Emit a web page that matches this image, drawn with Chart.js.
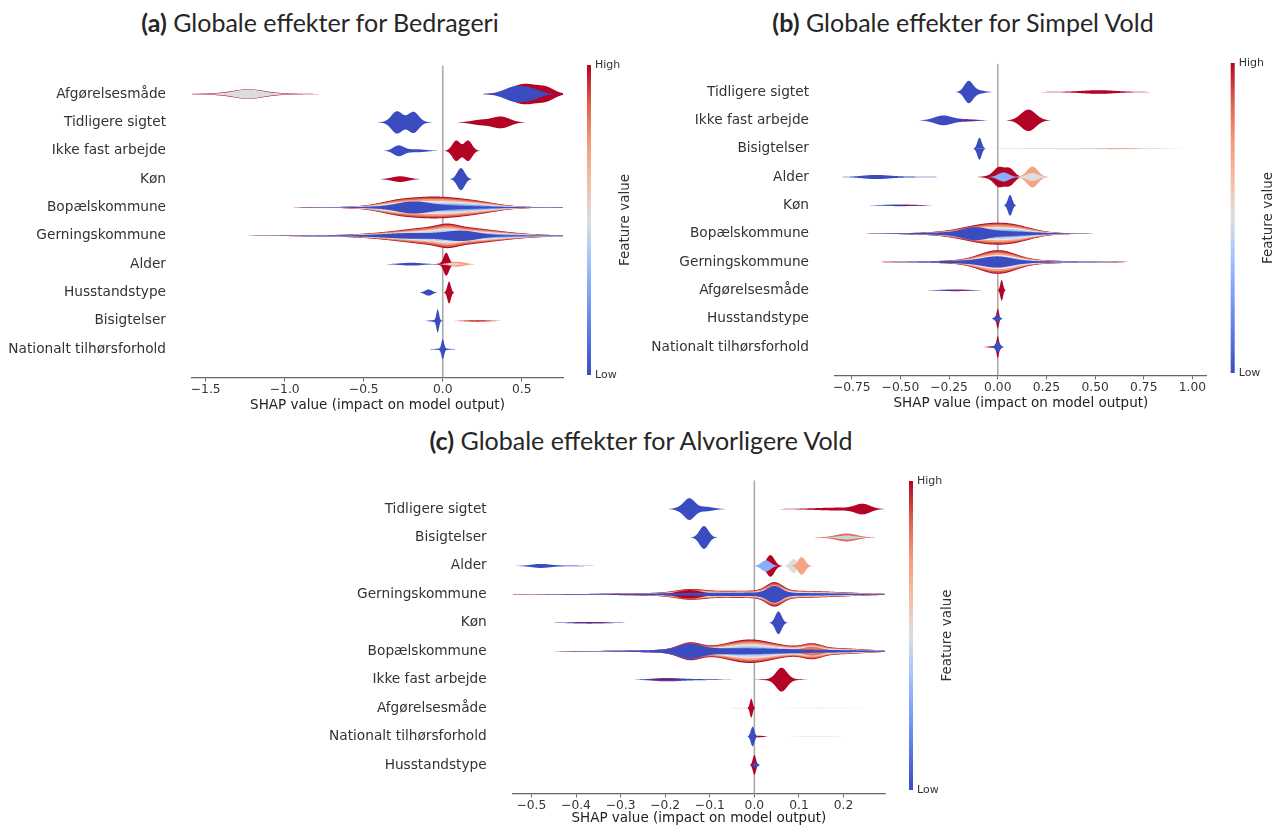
<!DOCTYPE html>
<html><head><meta charset="utf-8">
<script src="https://cdn.jsdelivr.net/npm/chart.js@4/dist/chart.umd.min.js"></script>
<style>
body{margin:0;background:#fff;width:1282px;height:827px;position:relative;overflow:hidden;font-family:'DejaVu Sans',sans-serif;}
.title{position:absolute;font-family:Lato,'Open Sans',sans-serif;font-size:25px;color:#262626;white-space:nowrap;transform:translateX(-50%);line-height:30px;}
.title b{font-weight:700}
canvas{position:absolute}
</style></head><body>
<div class="title" style="left:320px;top:7px"><b>(a)</b> Globale effekter for Bedrageri</div>
<div class="title" style="left:963px;top:7px"><b>(b)</b> Globale effekter for Simpel Vold</div>
<div class="title" style="left:641px;top:425px"><b>(c)</b> Globale effekter for Alvorligere Vold</div>
<canvas id="ca" width="640" height="375" style="left:0;top:40px;width:640px;height:375px"></canvas>
<canvas id="cb" width="642" height="375" style="left:640px;top:40px;width:642px;height:375px"></canvas>
<canvas id="cc" width="700" height="372" style="left:300px;top:455px;width:700px;height:372px"></canvas>
<script>
// ---------------- DATA ----------------
// each violin layer: [feature value (0=low..1=high, -1 = layered band stack), [[centre SHAP, spread, half-height in rows], ...]]
const FEATURES_A = ['Afgørelsesmåde','Tidligere sigtet','Ikke fast arbejde','Køn','Bopælskommune','Gerningskommune','Alder','Husstandstype','Bisigtelser','Nationalt tilhørsforhold'];
const XRANGE_A = [-1.587, 0.761];
const XTICKS_A = [-1.5, -1.0, -0.5, 0.0, 0.5];
const XTICKLABELS_A = ['\u22121.5','\u22121.0','\u22120.5','0.0','0.5'];
const VIOLINS_A = [
  [[1,[[-1.23,0.2,0.05],[-1.23,0.09,0.12]]],[0.5,[[-1.23,0.085,0.13],[-1.23,0.18,0.03]]],
   [1,[[0.52,0.09,0.36],[0.66,0.05,0.16]]],[0,[[0.47,0.075,0.28],[0.58,0.05,0.1]]]],
  [[0,[[-0.29,0.035,0.36],[-0.185,0.033,0.34],[-0.24,0.08,0.04]]],[1,[[0.37,0.055,0.2],[0.24,0.06,0.09]]]],
  [[0,[[-0.28,0.033,0.18],[-0.17,0.06,0.055]]],[1,[[0.085,0.025,0.36],[0.16,0.025,0.36]]]],
  [[1,[[-0.27,0.05,0.1]]],[0,[[0.115,0.024,0.39]]]],
  [[-1,[[-0.05,0.22,0.35],[-0.3,0.1,0.07],[0.25,0.12,0.06],[-0.05,0.45,0.03]]],[0,[[-0.19,0.1,0.15],[-0.05,0.2,0.05],[-0.05,0.45,0.026]]]],
  [[-1,[[0.03,0.28,0.3],[0.03,0.06,0.1],[-0.1,0.55,0.035]]],[0,[[0.12,0.1,0.15],[-0.2,0.15,0.07],[-0.1,0.55,0.03]]]],
  [[0,[[-0.2,0.07,0.05]]],[1,[[0.022,0.016,0.36],[0.03,0.04,0.05]]],[0.75,[[0.09,0.045,0.09]]],[0.55,[[0.07,0.035,0.045]]]],
  [[0,[[-0.09,0.022,0.11]]],[1,[[0.04,0.011,0.39]]]],
  [[0,[[-0.032,0.008,0.39],[-0.05,0.03,0.03]]],[0.9,[[0.22,0.07,0.035]]]],
  [[0,[[0,0.008,0.33],[0,0.04,0.03]]]]
];

const FEATURES_B = ['Tidligere sigtet','Ikke fast arbejde','Bisigtelser','Alder','Køn','Bopælskommune','Gerningskommune','Afgørelsesmåde','Husstandstype','Nationalt tilhørsforhold'];
const XRANGE_B = [-0.836, 1.073];
const XTICKS_B = [-0.75, -0.5, -0.25, 0.0, 0.25, 0.5, 0.75, 1.0];
const XTICKLABELS_B = ['\u22120.75','\u22120.50','\u22120.25','0.00','0.25','0.50','0.75','1.00'];
const VIOLINS_B = [
  [[0,[[-0.15,0.022,0.38],[-0.1,0.03,0.06]]],[1,[[0.52,0.08,0.05],[0.5,0.17,0.015]]]],
  [[0,[[-0.28,0.045,0.17],[-0.16,0.05,0.04]]],[1,[[-0.15,0.04,0.012]]],[1,[[0.157,0.038,0.38]]]],
  [[0,[[-0.094,0.011,0.39]]],[0.53,[[0.62,0.18,0.02],[0.25,0.25,0.012]]],[0.8,[[0.62,0.1,0.008]]]],
  [[0,[[-0.63,0.07,0.065],[-0.5,0.12,0.015]]],[1,[[0.005,0.025,0.32],[0.06,0.025,0.3],[-0.04,0.03,0.04]]],[0.3,[[0.03,0.028,0.16]]],[0.72,[[0.178,0.028,0.37]]],[0.5,[[0.178,0.03,0.14]]]],
  [[0,[[-0.5,0.08,0.03]]],[1,[[-0.45,0.06,0.012]]],[0,[[0.063,0.011,0.37]]]],
  [[-1,[[-0.02,0.14,0.31],[0.1,0.08,0.06],[-0.1,0.25,0.06]]],[0,[[-0.12,0.06,0.14],[-0.02,0.15,0.05],[-0.1,0.25,0.05]]]],
  [[-1,[[0,0.09,0.33],[0,0.22,0.06],[0.05,0.3,0.03]]],[0,[[0,0.07,0.14],[-0.1,0.15,0.04],[0.05,0.3,0.027]]]],
  [[0,[[-0.22,0.07,0.03]]],[1,[[-0.2,0.05,0.012]]],[1,[[0.02,0.007,0.37]]]],
  [[1,[[0,0.006,0.36]]],[0,[[-0.003,0.011,0.13]]]],
  [[1,[[0,0.006,0.37],[-0.02,0.025,0.03]]],[0,[[0,0.011,0.2]]]]
];

const FEATURES_C = ['Tidligere sigtet','Bisigtelser','Alder','Gerningskommune','Køn','Bopælskommune','Ikke fast arbejde','Afgørelsesmåde','Nationalt tilhørsforhold','Husstandstype'];
const XRANGE_C = [-0.542, 0.293];
const XTICKS_C = [-0.5, -0.4, -0.3, -0.2, -0.1, 0.0, 0.1, 0.2];
const XTICKLABELS_C = ['\u22120.5','\u22120.4','\u22120.3','\u22120.2','\u22120.1','0.0','0.1','0.2'];
const VIOLINS_C = [
  [[0,[[-0.146,0.012,0.37],[-0.11,0.018,0.08],[-0.17,0.01,0.04]]],[1,[[0.243,0.017,0.17],[0.19,0.04,0.04],[0.14,0.05,0.015]]]],
  [[0,[[-0.113,0.01,0.4]]],[0.85,[[0.207,0.022,0.12],[0.2,0.035,0.02]]],[0.45,[[0.207,0.02,0.07]]]],
  [[0,[[-0.48,0.02,0.06],[-0.44,0.05,0.015]]],[1,[[0.036,0.009,0.38]]],[0.3,[[0.026,0.01,0.2]]],[0.5,[[0.088,0.008,0.24]]],[0.72,[[0.106,0.008,0.31]]]],
  [[-1,[[-0.145,0.03,0.1],[-0.05,0.12,0.09],[0.045,0.018,0.3],[0.13,0.09,0.07],[-0.1,0.25,0.025]]],[1,[[-0.145,0.028,0.15]]],[0,[[0.045,0.016,0.24],[0,0.15,0.04],[-0.1,0.25,0.022]]]],
  [[0,[[-0.37,0.04,0.03]]],[1,[[-0.37,0.03,0.012]]],[0,[[0.054,0.007,0.4]]]],
  [[-1,[[-0.145,0.025,0.22],[-0.01,0.05,0.3],[-0.07,0.1,0.08],[0.13,0.02,0.14],[0.12,0.07,0.1],[0.22,0.05,0.04],[-0.05,0.2,0.03]]],[0.82,[[0.13,0.02,0.12],[0.12,0.06,0.04]]],[0,[[-0.145,0.025,0.19],[-0.08,0.1,0.05],[0.05,0.15,0.04],[-0.05,0.2,0.025]]]],
  [[0,[[-0.2,0.03,0.05],[-0.14,0.05,0.02]]],[1,[[-0.2,0.025,0.02]]],[1,[[0.061,0.012,0.39],[0.06,0.03,0.03]]]],
  [[0.5,[[0.15,0.07,0.01],[-0.03,0.015,0.015]]],[1,[[-0.007,0.003,0.34]]]],
  [[0.5,[[0.14,0.05,0.008]]],[1,[[0.01,0.01,0.03]]],[0,[[-0.004,0.004,0.35]]]],
  [[1,[[0,0.0035,0.35]]],[0,[[0.003,0.004,0.1]]]]
];

// ---------------- STYLE ----------------
const CMAP = [[0,[59,76,192]],[0.125,[89,119,227]],[0.25,[124,159,249]],[0.375,[165,195,254]],[0.5,[221,221,221]],[0.625,[245,190,164]],[0.75,[244,154,123]],[0.875,[222,96,77]],[1,[180,4,38]]];
function cmap(t){
  for(let i=1;i<CMAP.length;i++){
    if(t<=CMAP[i][0]){
      const [t0,c0]=CMAP[i-1],[t1,c1]=CMAP[i];const f=(t-t0)/(t1-t0);
      return 'rgb('+c0.map((v,j)=>Math.round(v+(c1[j]-v)*f)).join(',')+')';
    }
  }
  return 'rgb(180,4,38)';
}
const BANDS = [[1.0,'#a8102c'],[0.9,'#dc5d4a'],[0.76,'#f3a481'],[0.6,'#f0e2dc'],[0.46,'#b9cff7'],[0.32,'#7f9ff0']];

function buildDatasets(features, violins){
  const out=[];
  violins.forEach((layers,k)=>{
    const row=features.length-1-k;
    layers.forEach(([fv,bumps])=>{
      out.push({label:features[k],fv:fv,data:bumps.map(b=>({x:b[0],y:row,s:b[1],a:b[2]})),pointRadius:0,showLine:false});
    });
  });
  return out;
}

function fillShape(ctx,xs,ys,ca,pts,f,color){
  const rowPx=Math.abs(ys.getPixelForValue(0)-ys.getPixelForValue(1));
  const row=pts[0].y;
  const samples=[];
  for(let px=ca.left;px<=ca.right;px+=0.5){
    const v=xs.getValueForPixel(px);
    let h=0;for(const b of pts){const z=(v-b.x)/b.s;h+=b.a*Math.exp(-0.5*z*z);}
    samples.push([px,h*f]);
  }
  ctx.fillStyle=color;
  let run=[];
  const flush=()=>{
    if(run.length>1){
      ctx.beginPath();
      run.forEach(([px,h],i)=>{const yy=ys.getPixelForValue(row+h);if(i===0)ctx.moveTo(px,yy);else ctx.lineTo(px,yy);});
      for(let i=run.length-1;i>=0;i--){const [px,h]=run[i];ctx.lineTo(px,ys.getPixelForValue(row-h));}
      ctx.closePath();ctx.fill();
    }
    run=[];
  };
  for(const s of samples){ if(s[1]*rowPx>0.12) run.push(s); else flush(); }
  flush();
}

const violinPlugin={
  id:'violins',
  beforeDatasetsDraw(chart){
    const {ctx,chartArea:ca,scales:{x}}=chart;
    const x0=x.getPixelForValue(0);
    ctx.save();ctx.strokeStyle='#ababab';ctx.lineWidth=1.6;
    ctx.beginPath();ctx.moveTo(x0,ca.top);ctx.lineTo(x0,ca.bottom);ctx.stroke();ctx.restore();
  },
  afterDatasetsDraw(chart){
    const {ctx,chartArea:ca,scales:{x,y}}=chart;
    ctx.save();
    ctx.beginPath();ctx.rect(ca.left,ca.top-20,ca.right-ca.left,ca.bottom-ca.top+20);ctx.clip();
    chart.data.datasets.forEach(ds=>{
      if(ds.fv<0){ BANDS.forEach(([f,c])=>fillShape(ctx,x,y,ca,ds.data,f,c)); }
      else fillShape(ctx,x,y,ca,ds.data,1,cmap(ds.fv));
    });
    ctx.restore();
  }
};

const colorbarPlugin={
  id:'cbar',
  afterDraw(chart){
    const {ctx,chartArea:ca}=chart;
    const cx=ca.right+24,w=4,top=chart.options.cbTop,bot=chart.options.cbBot;
    const g=ctx.createLinearGradient(0,bot,0,top);
    CMAP.forEach(([t])=>g.addColorStop(t,cmap(t)));
    ctx.save();ctx.fillStyle=g;ctx.fillRect(cx,top,w,bot-top);
    ctx.fillStyle='#333';ctx.font='11px "DejaVu Sans"';ctx.textBaseline='middle';ctx.textAlign='left';
    ctx.fillText('High',cx+w+4,top);ctx.fillText('Low',cx+w+4,bot);
    ctx.translate(cx+38,(top+bot)/2);ctx.rotate(-Math.PI/2);ctx.textAlign='center';ctx.font='13.5px "DejaVu Sans"';
    ctx.fillText('Feature value',0,0);ctx.restore();
  }
};

function makeChart(id,P,features,violins,xr,xticks,xlabels){
  new Chart(document.getElementById(id),{
    type:'scatter',
    data:{datasets:buildDatasets(features,violins)},
    options:{
      responsive:false,animation:false,events:[],
      cbTop:P.cbTop,cbBot:P.cbBot,
      layout:{padding:{top:P.padTop,right:P.padRight,left:0,bottom:0}},
      plugins:{legend:{display:false},tooltip:{enabled:false}},
      scales:{
        x:{type:'linear',min:xr[0],max:xr[1],
          afterBuildTicks:s=>{s.ticks=xticks.map(v=>({value:v}));},
          ticks:{callback:(v,i)=>xlabels[i],font:{family:'DejaVu Sans',size:12.3},color:'#333',padding:1,maxRotation:0,autoSkip:false},
          grid:{display:true,drawOnChartArea:false,drawTicks:true,tickLength:4,tickColor:'#666',tickWidth:1},
          border:{display:true,color:'#666',width:1.3},
          title:{display:true,text:'SHAP value (impact on model output)',font:{family:'DejaVu Sans',size:13.5},color:'#222',padding:{top:0,bottom:P.titlePad}},
          afterFit:s=>{s.height=P.xAxisH;}},
        y:{type:'linear',min:-1,max:features.length,
          afterBuildTicks:s=>{s.ticks=features.map((f,i)=>({value:i}));},
          ticks:{callback:v=>features[features.length-1-v],font:{family:'DejaVu Sans',size:13.7},color:'#333',padding:0,autoSkip:false},
          grid:{display:true,drawOnChartArea:false,drawTicks:true,tickLength:26,tickColor:'rgba(0,0,0,0)'},border:{display:false},
          afterFit:s=>{s.width=P.yAxisW;}}
      }
    },
    plugins:[violinPlugin,colorbarPlugin]
  });
}

makeChart('ca',{padTop:25.7,padRight:77,yAxisW:192,xAxisH:37.4,titlePad:1.9,cbTop:25,cbBot:335},FEATURES_A,VIOLINS_A,XRANGE_A,XTICKS_A,XTICKLABELS_A);
makeChart('cb',{padTop:23.7,padRight:75.3,yAxisW:195,xAxisH:39.7,titlePad:3.9,cbTop:23,cbBot:333},FEATURES_B,VIOLINS_B,XRANGE_B,XTICKS_B,XTICKLABELS_B);
makeChart('cc',{padTop:25.6,padRight:115,yAxisW:212.7,xAxisH:33.6,titlePad:0,cbTop:26,cbBot:335},FEATURES_C,VIOLINS_C,XRANGE_C,XTICKS_C,XTICKLABELS_C);
</script>
</body></html>
